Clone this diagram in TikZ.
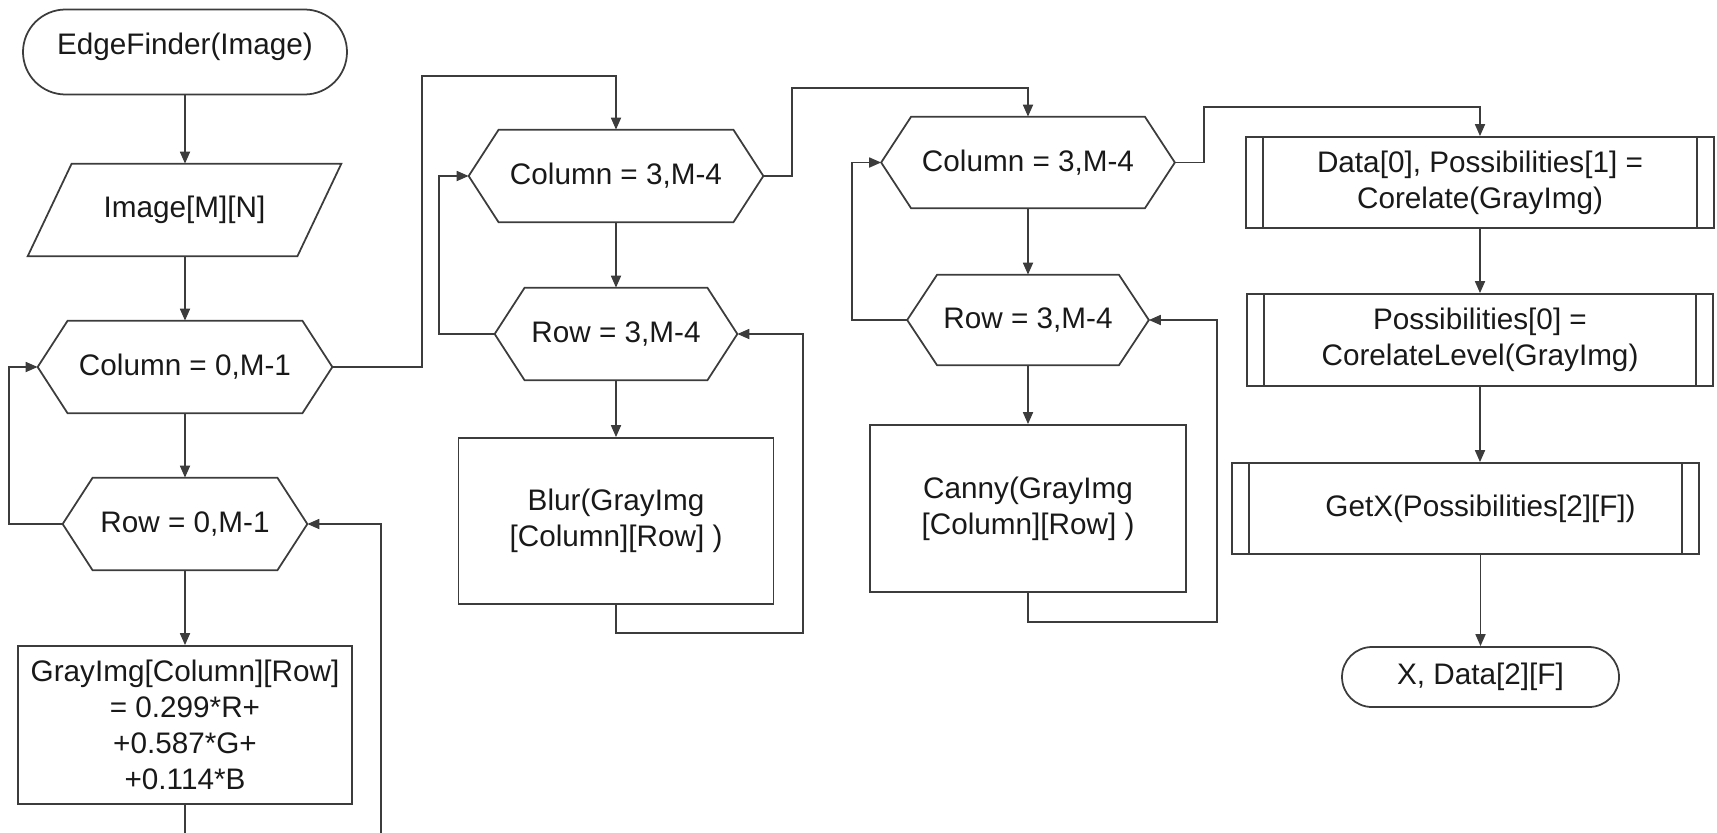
\documentclass[tikz,border=0pt]{standalone}
\usepackage{fontspec}
\setmainfont{Liberation Sans}
\usetikzlibrary{arrows.meta, positioning, shapes.misc, calc}

\newlength{\unitpx}
\setlength{\unitpx}{0.02cm}
\definecolor{flowline}{HTML}{3C3C3C}

\begin{document}
\begin{tikzpicture}[x=0.02cm, y=-0.02cm,
    font=\fontsize{16.9}{20.5}\selectfont,
    every node/.style={align=center, inner sep=0pt, text=black!90},
    shape line/.style={draw=flowline, line width=1pt},
    terminal/.style={shape line, rounded rectangle},
    io box/.style={rectangle},
    loop box/.style={rectangle},
    task box/.style={shape line, rectangle},
    sub box/.style={shape line, rectangle},
    link/.style={draw=flowline, line width=1pt},
    flow/.style={link, -{Triangle[length=0.24cm, width=0.2cm]}}]

    % page frame
    \clip (0,0) rectangle (1717,832);

    % first column: grayscale conversion
    \node[terminal, minimum width=324\unitpx, minimum height=85\unitpx] (start) at (185,52)
        {\raisebox{16\unitpx}{EdgeFinder(Image)}};
    \node[io box, minimum width=313\unitpx, minimum height=92\unitpx] (image) at (184.5,210) {Image[M][N]};
    \node[loop box, minimum width=294\unitpx, minimum height=92\unitpx] (col1) at (185,367) {Column = 0,M-1};
    \node[loop box, minimum width=244\unitpx, minimum height=92\unitpx] (row1) at (185,524) {Row = 0,M-1};
    \node[task box, minimum width=334\unitpx, minimum height=158\unitpx] (gray) at (185,725)
        {GrayImg[Column][Row]\\= 0.299*R+\\+0.587*G+\\+0.114*B};

    % second column: blur
    \node[loop box, minimum width=294\unitpx, minimum height=92\unitpx] (col2) at (616,176) {Column = 3,M-4};
    \node[loop box, minimum width=242\unitpx, minimum height=92\unitpx] (row2) at (616,334) {Row = 3,M-4};
    \node[task box, minimum width=315\unitpx, minimum height=166\unitpx] (blur) at (616,521)
        {Blur(GrayImg\\{}[Column][Row] )};

    % third column: canny
    \node[loop box, minimum width=293\unitpx, minimum height=91\unitpx] (col3) at (1028,162.5) {Column = 3,M-4};
    \node[loop box, minimum width=241\unitpx, minimum height=90\unitpx] (row3) at (1028,320) {Row = 3,M-4};
    \node[task box, minimum width=316\unitpx, minimum height=167\unitpx] (canny) at (1028,508.5)
        {Canny(GrayImg\\{}[Column][Row] )};

    % fourth column: correlation
    \node[sub box, minimum width=468\unitpx, minimum height=91\unitpx] (data) at (1480,182.5)
        {Data[0], Possibilities[1] =\\Corelate(GrayImg)};
    \node[sub box, minimum width=466\unitpx, minimum height=92\unitpx] (poss) at (1480,340)
        {Possibilities[0] =\\CorelateLevel(GrayImg)};
    \node[sub box, minimum width=467\unitpx, minimum height=91\unitpx] (getx) at (1465.5,508.5)
        {\hspace*{30\unitpx}GetX(Possibilities[2][F])};
    \node[terminal, minimum width=277\unitpx, minimum height=60\unitpx] (stop) at (1480.5,677) {X, Data[2][F]};

    % input parallelogram
    \draw[link] (image.south west) -- ([xshift=44\unitpx]image.north west) -- (image.north east)
        -- ([xshift=-44\unitpx]image.south east) -- cycle;

    % loop hexagons
    \foreach \n in {col1,row1,col2,row2,col3,row3}
        \draw[link] (\n.west) -- ([xshift=30\unitpx]\n.north west) -- ([xshift=-30\unitpx]\n.north east)
            -- (\n.east) -- ([xshift=-30\unitpx]\n.south east) -- ([xshift=30\unitpx]\n.south west) -- cycle;

    % subroutine side bars
    \foreach \n in {data,poss,getx}
        \draw[link] ([xshift=18\unitpx]\n.north west) -- ([xshift=18\unitpx]\n.south west)
            ([xshift=-18\unitpx]\n.north east) -- ([xshift=-18\unitpx]\n.south east);

    % connectors
    \draw[flow] (start.south) -- (start.south |- image.north);
    \draw[flow] (image.south -| col1.north) -- (col1.north);
    \draw[flow] (col1) -- (row1);
    \draw[flow] (row1) -- (gray);
    \draw[flow] (gray.south) -- ++(0,80) -| ($(row1.east)+(74,0)$) -- (row1.east);
    \draw[flow] (row1.west) -- ++(-54,0) |- (col1.west);
    \draw[flow] (col1.east) -- ++(90,0) |- ($(col2.north)+(0,-54)$) -- (col2.north);

    \draw[flow] (col2) -- (row2);
    \draw[flow] (row2) -- (blur);
    \draw[flow] (blur.south) -- ++(0,28) -| ($(row2.east)+(66,0)$) -- (row2.east);
    \draw[flow] (row2.west) -- ++(-56,0) |- (col2.west);
    \draw[flow] (col2.east) -- ++(29,0) |- ($(col3.north)+(0,-29)$) -- (col3.north);

    \draw[flow] (col3) -- (row3);
    \draw[flow] (row3) -- (canny);
    \draw[flow] (canny.south) -- ++(0,29) -| ($(row3.east)+(68,0)$) -- (row3.east);
    \draw[flow] (row3.west) -- ++(-55,0) |- (col3.west);
    \draw[flow] (col3.east) -- ++(29,0) |- ($(data.north)+(0,-29)$) -- (data.north);

    \draw[flow] (data) -- (poss);
    \draw[flow] (poss.south) -- (poss.south |- getx.north);
    \draw[flow] (getx.south -| stop.north) -- (stop.north);
\end{tikzpicture}
\end{document}
